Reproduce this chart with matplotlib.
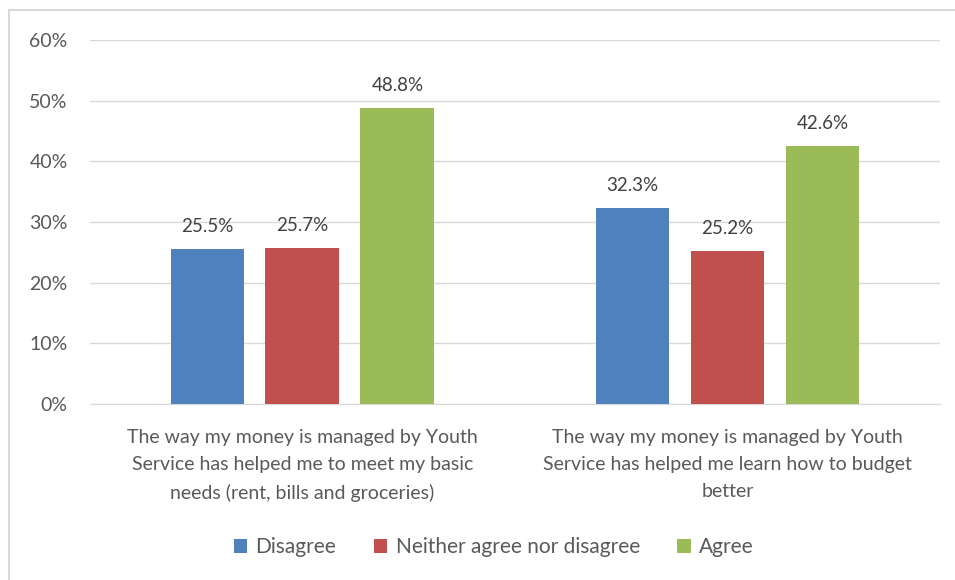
import numpy as np
import matplotlib.pyplot as plt
from matplotlib.patches import Rectangle

categories = [
    "The way my money is managed by Youth\nService has helped me to meet my basic\nneeds (rent, bills and groceries)",
    "The way my money is managed by Youth\nService has helped me learn how to budget\nbetter",
]
series = ["Disagree", "Neither agree nor disagree", "Agree"]
values = [
    [25.5, 32.3],
    [25.7, 25.2],
    [48.8, 42.6],
]
colours = ["#4F81BD", "#C0504D", "#9BBB59"]
y_ticks = [0, 10, 20, 30, 40, 50, 60]

text_grey = "#595959"
plt.rcParams["font.family"] = ["Lato", "DejaVu Sans"]

fig = plt.figure(figsize=(9.55, 5.80), dpi=100)
ax = fig.add_axes([0.0942, 0.3034, 0.8901, 0.6276])

x = np.arange(len(categories))
width = 0.174
step = 0.2235
for i, (name, vals, col) in enumerate(zip(series, values, colours)):
    pos = x + (i - 1) * step
    bars = ax.bar(pos, vals, width, color=col, label=name, zorder=3)
    for b, v in zip(bars, vals):
        ax.text(b.get_x() + b.get_width() / 2, v + 2.3, f"{v:.1f}%",
                ha="center", va="bottom", fontsize=13.5, color="#404040")

ax.set_xlim(-0.5, 1.5)
ax.set_ylim(0, 60)
ax.set_yticks(y_ticks)
ax.set_yticklabels([f"{t}%" for t in y_ticks])
ax.set_xticks(x)
ax.set_xticklabels(categories, linespacing=1.72)
ax.tick_params(axis="both", length=0, colors=text_grey, labelsize=14)
ax.tick_params(axis="y", pad=16)
ax.tick_params(axis="x", pad=18)
ax.grid(axis="y", color="#D9D9D9", linewidth=1, zorder=0)
for side in ["top", "right", "left"]:
    ax.spines[side].set_visible(False)
ax.spines["bottom"].set_color("#D9D9D9")

leg = fig.legend(loc="center", bbox_to_anchor=(0.517, 0.057), ncol=3,
                 frameon=False, fontsize=15, handlelength=0.65,
                 handleheight=0.65, handletextpad=0.4, columnspacing=1.8)
for t in leg.get_texts():
    t.set_color(text_grey)

# chart border (only top and left edges fall inside the canvas)
fig.patches.append(Rectangle((9 / 955, -0.05), 1.0, 1.05 - 9.5 / 580,
                             transform=fig.transFigure, fill=False,
                             edgecolor="#D9D9D9", linewidth=1.5))

fig.savefig("out.png", dpi=100)
